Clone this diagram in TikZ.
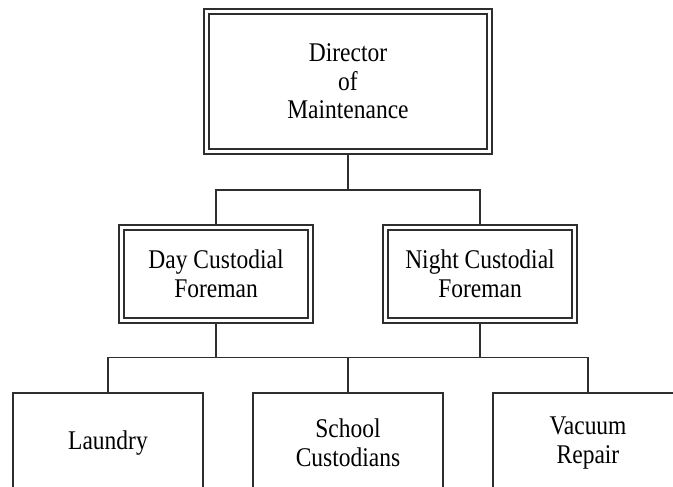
\documentclass[tikz,border=0pt]{standalone}
\usepackage{fontspec}
\setmainfont[FakeStretch=0.87]{Liberation Serif}
\usetikzlibrary{backgrounds}
\definecolor{rule}{HTML}{2E2E2E}
\tikzset{
  wire/.style={draw=rule, line width=1.8pt},
  label font/.style={font=\fontsize{27}{28.5}\selectfont, align=center, text=black},
  dbox/.style={label font, draw=rule, line width=1.6pt, double=white,
    double distance=3.2pt, fill=white, inner sep=0pt},
  leaf/.style={label font, inner sep=0pt, minimum width=190pt, minimum height=100pt},
}
\begin{document}
\begin{tikzpicture}[x=1pt, y=-1pt]
  \useasboundingbox (0,0) rectangle (673,487);

  % management boxes (double frame)
  \node[dbox, minimum width=283pt, minimum height=140pt] (dir) at (348,81.5)
    {Director\\of\\Maintenance};
  \node[dbox, minimum width=189pt, minimum height=93pt] (day) at (216,274)
    {Day Custodial\\Foreman};
  \node[dbox, minimum width=189pt, minimum height=93pt] (night) at (480,274)
    {Night Custodial\\Foreman};

  % crew boxes, open towards the lower edge
  \node[leaf] (laundry) at (108,443) {Laundry};
  \node[leaf] (school)  at (348,443) {School\\Custodians};
  \node[leaf] (vacuum)  at (588,443) {Vacuum\\Repair};
  \foreach \n in {laundry, school, vacuum}
    \draw[wire] ([yshift=-40pt]\n.south west) -- (\n.north west)
      -- (\n.north east) -- ([yshift=-40pt]\n.south east);

  % paper and connectors, behind the boxes
  \begin{pgfonlayer}{background}
    \fill[white] (0,0) rectangle (673,487);
    \coordinate (j1) at (348,190);
    \coordinate (j2) at (348,357.5);
    \draw[wire] (dir.south) -- (j1);
    \draw[wire] (j1) -| (day.north);
    \draw[wire] (j1) -| (night.north);
    \draw[wire] (day.south) -- (day.south |- j2);
    \draw[wire] (night.south) -- (night.south |- j2);
    \draw[wire] (j2) -| (laundry.north);
    \draw[wire] (j2) -| (vacuum.north);
    \draw[wire] (j2) -- (school.north);
  \end{pgfonlayer}
\end{tikzpicture}
\end{document}
